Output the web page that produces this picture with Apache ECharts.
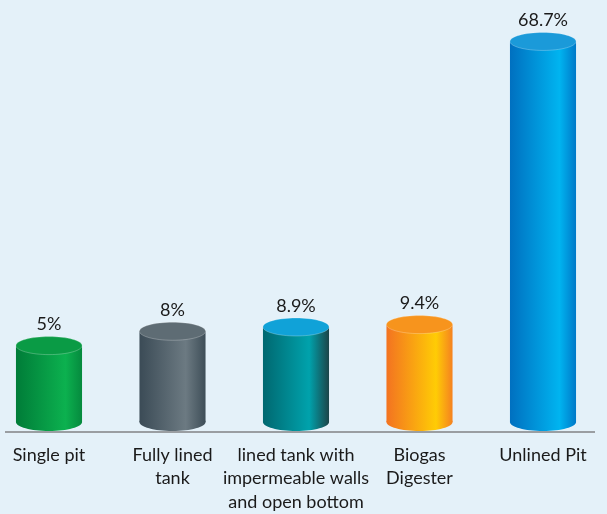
<!DOCTYPE html>
<html><head><meta charset="utf-8">
<script src="https://cdn.jsdelivr.net/npm/echarts@6/dist/echarts.min.js"></script>
<style>html,body{margin:0;padding:0;background:#e4f1f9}#c{width:607px;height:514px}</style>
</head><body><div id="c"></div>
<script>
const categories = ['Single pit', 'Fully lined\ntank', 'lined tank with\nimpermeable walls\nand open bottom', 'Biogas\nDigester', 'Unlined Pit'];
const values = [5, 8, 8.9, 9.4, 68.7];
const valueLabels = ['5%', '8%', '8.9%', '9.4%', '68.7%'];

const AXIS_MIN = -11, AXIS_MAX = 69;
const bodyStops = [
  [[0,'#007c38'],[0.75,'#0cb14f'],[1,'#058a3e']],
  [[0,'#3b4b56'],[0.7,'#6c7a82'],[1,'#3e4e58']],
  [[0,'#006870'],[0.7,'#00a2ac'],[1,'#1c4448']],
  [[0,'#f37321'],[0.75,'#ffcc05'],[1,'#f58220']],
  [[0,'#0070c0'],[0.75,'#00b4f0'],[1,'#0079c8']]
];
const topColors = ['#0a9b45', '#5e6c74', '#10a2d8', '#f7941d', '#1b9ad9'];

function grad(stops){
  return new echarts.graphic.LinearGradient(0,0,1,0, stops.map(s=>({offset:s[0], color:s[1]})));
}

const chart = echarts.init(document.getElementById('c'));
chart.setOption({
  backgroundColor: '#e4f1f9',
  animation: false,
  grid: {left: 49, right: 64, top: 40, bottom: 92, containLabel: false},
  xAxis: {
    type: 'category', data: categories, offset: 10, boundaryGap: false,
    axisLine: {show: false}, axisTick: {show: false},
    axisLabel: {interval: 0, margin: 11, fontFamily: 'Lato', fontSize: 18, lineHeight: 23.5, color: '#1a1a1a'}
  },
  yAxis: {type: 'value', min: AXIS_MIN, max: AXIS_MAX, show: false, splitLine: {show: false}},
  graphic: [{type: 'line', shape: {x1: 5, y1: 432, x2: 595, y2: 432}, style: {stroke: '#9a9ea2', lineWidth: 2}}],
  series: [{
    type: 'custom',
    data: values.map((v,i)=>[i, v]),
    renderItem: function(params, api){
      const i = api.value(0);
      const top = api.coord([i, api.value(1)]);
      const base = api.coord([i, AXIS_MIN]);
      const bw = api.size([1, 0])[0] * 0.535;
      const rx = bw/2, ry = 9;
      const g = grad(bodyStops[i]);
      return {type: 'group', children: [
        {type: 'ellipse', shape: {cx: top[0], cy: base[1], rx: rx, ry: ry}, style: {fill: g}},
        {type: 'rect', shape: {x: top[0]-rx, y: top[1], width: bw, height: base[1]-top[1]}, style: {fill: g}},
        {type: 'ellipse', shape: {cx: top[0], cy: top[1], rx: rx, ry: ry}, style: {fill: topColors[i], stroke: 'rgba(255,255,255,0.25)', lineWidth: 1}},
        {type: 'text', style: {text: valueLabels[i], x: top[0], y: top[1]-ry-3, align: 'center', verticalAlign: 'bottom', fontFamily: 'Lato', fontSize: 18, fill: '#1a1a1a'}}
      ]};
    }
  }]
});
</script></body></html>
